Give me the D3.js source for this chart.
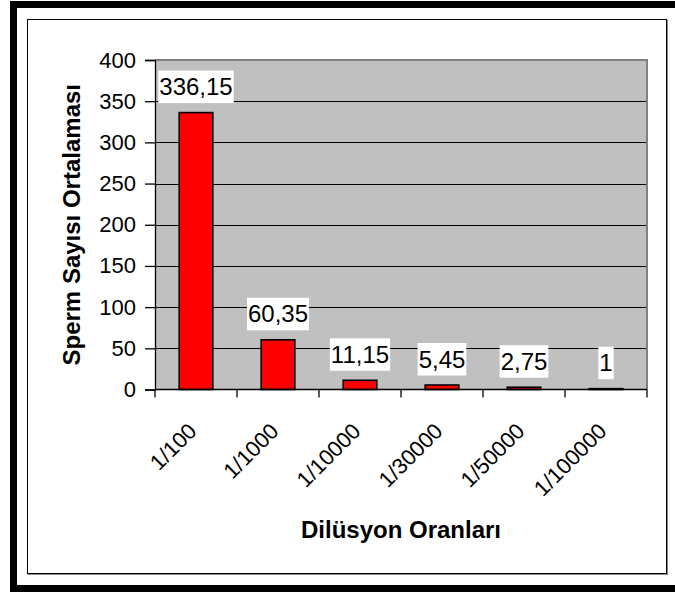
<!DOCTYPE html>
<html>
<head>
<meta charset="utf-8">
<script src="https://cdn.jsdelivr.net/npm/d3@7"></script>
<style>
  body { margin: 0; background: #fff; }
  text { font-family: "Liberation Sans", Arial, sans-serif; }
</style>
</head>
<body>
<div id="chart"></div>
<script>
// data
var categories = ["1/100", "1/1000", "1/10000", "1/30000", "1/50000", "1/100000"];
var values = [336.15, 60.35, 11.15, 5.45, 2.75, 1];
var yTicks = [0, 50, 100, 150, 200, 250, 300, 350, 400];

var W = 675, H = 592;
var plot = {left: 155, right: 647, top: 60, bottom: 389.5};

var svg = d3.select("#chart").append("svg")
    .attr("width", W)
    .attr("height", H);

// outer black frame (right side runs off the picture)
svg.append("rect")
    .attr("x", 13.5).attr("y", 4.5)
    .attr("width", 700).attr("height", 584)
    .attr("fill", "none")
    .attr("stroke", "#000")
    .attr("stroke-width", 7);

// inner chart frame with a little shadow
svg.append("rect")
    .attr("x", 28.5).attr("y", 20.5)
    .attr("width", 639).attr("height", 554)
    .attr("fill", "none").attr("stroke", "#888").attr("stroke-width", 1);
svg.append("rect")
    .attr("x", 27.5).attr("y", 19.5)
    .attr("width", 639).attr("height", 554)
    .attr("fill", "#fff").attr("stroke", "#000").attr("stroke-width", 1);

var xScale = d3.scaleBand()
    .domain(categories)
    .range([plot.left, plot.right]);

var yScale = d3.scaleLinear()
    .domain([0, 400])
    .range([plot.bottom, plot.top]);

// plot area
svg.append("rect")
    .attr("x", plot.left).attr("y", plot.top)
    .attr("width", plot.right - plot.left)
    .attr("height", plot.bottom - plot.top)
    .attr("fill", "#c0c0c0");

// gridlines
svg.append("g")
  .selectAll("line")
  .data(yTicks.filter(function(d) { return d > 0 && d < 400; }))
  .enter().append("line")
    .attr("x1", plot.left).attr("x2", plot.right)
    .attr("y1", function(d) { return Math.round(yScale(d)) + 0.5; })
    .attr("y2", function(d) { return Math.round(yScale(d)) + 0.5; })
    .attr("stroke", "#000").attr("stroke-width", 1);

// top + right border of plot area
svg.append("path")
    .attr("d", "M" + plot.left + "," + plot.top + "H" + plot.right + "V" + plot.bottom)
    .attr("fill", "none")
    .attr("stroke", "#808080")
    .attr("stroke-width", 2);

// bars
var barW = xScale.bandwidth() * 0.41;
svg.append("g")
  .selectAll("rect")
  .data(values)
  .enter().append("rect")
    .attr("x", function(d, i) { return xScale(categories[i]) + xScale.bandwidth() / 2 - barW / 2; })
    .attr("y", function(d) { return yScale(d); })
    .attr("width", barW)
    .attr("height", function(d) { return yScale(0) - yScale(d); })
    .attr("fill", "#ff0000")
    .attr("stroke", "#000")
    .attr("stroke-width", 1.6);

// y axis
var yAxis = d3.axisLeft(yScale)
    .tickValues(yTicks)
    .tickSize(10)
    .tickPadding(9);
var gy = svg.append("g")
    .attr("transform", "translate(" + plot.left + ",0)")
    .call(yAxis);
gy.select(".domain").attr("stroke", "#000").attr("stroke-width", 1.3);
gy.selectAll(".tick line").attr("stroke", "#000").attr("stroke-width", 1.3);
gy.selectAll(".tick text")
    .attr("font-size", "22px")
    .attr("fill", "#000")
    .attr("font-family", "Liberation Sans, Arial, sans-serif");

// x axis (ticks at category borders)
var gx = svg.append("g")
    .attr("transform", "translate(0," + plot.bottom + ")");
gx.append("line")
    .attr("x1", plot.left).attr("x2", plot.right)
    .attr("stroke", "#000").attr("stroke-width", 1.3);
gx.selectAll("line.tk")
  .data(categories.concat(["end"]))
  .enter().append("line")
    .attr("class", "tk")
    .attr("x1", function(d, i) { return plot.left + i * xScale.step(); })
    .attr("x2", function(d, i) { return plot.left + i * xScale.step(); })
    .attr("y1", 0).attr("y2", 8)
    .attr("stroke", "#000").attr("stroke-width", 1.3);
gx.selectAll("text")
  .data(categories)
  .enter().append("text")
    .attr("transform", function(d) {
      return "translate(" + (xScale(d) + xScale.bandwidth() / 2 + 2) + ",43) rotate(-45)";
    })
    .attr("text-anchor", "end")
    .attr("font-size", "22px")
    .text(function(d) { return d; });

// data labels
var lab = svg.append("g")
  .selectAll("g")
  .data(values)
  .enter().append("g")
    .attr("transform", function(d, i) {
      return "translate(" + (xScale(categories[i]) + xScale.bandwidth() / 2) + "," + (yScale(d) - 17.5) + ")";
    });
lab.append("text")
    .attr("text-anchor", "middle")
    .attr("font-size", "24px")
    .attr("fill", "#000")
    .text(function(d) { return String(d).replace(".", ","); });
lab.insert("rect", "text")
    .each(function() {
      var bb = this.parentNode.querySelector("text").getBBox();
      d3.select(this)
        .attr("x", bb.x - 1)
        .attr("y", -24.5)
        .attr("width", bb.width + 2)
        .attr("height", 32.5)
        .attr("fill", "#fff");
    });

// axis titles
svg.append("text")
    .attr("transform", "translate(80," + ((plot.top + plot.bottom) / 2) + ") rotate(-90)")
    .attr("text-anchor", "middle")
    .attr("font-size", "24px")
    .attr("font-weight", "bold")
    .text("Sperm Sayısı Ortalaması");

svg.append("text")
    .attr("x", (plot.left + plot.right) / 2)
    .attr("y", 538)
    .attr("text-anchor", "middle")
    .attr("font-size", "24px")
    .attr("font-weight", "bold")
    .text("Dilüsyon Oranları");
</script>
</body>
</html>
